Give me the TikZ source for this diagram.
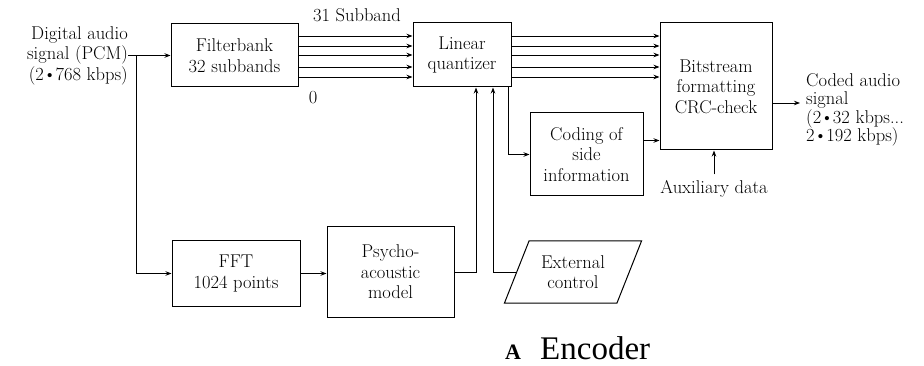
\documentclass[tikz,border=0pt]{standalone}
\usepackage{fontspec}
\newfontfamily\timesf{Liberation Serif}
\usetikzlibrary{arrows.meta,shapes.geometric}
\newcommand{\bul}{\kern-0.8pt\textbullet\kern-0.8pt}
\begin{document}
\begin{tikzpicture}[x=1pt,y=-1pt,
  every node/.style={font=\fontsize{18.5}{20.5}\selectfont},
  blk/.style={draw, line width=1pt, align=center, inner sep=0pt},
  lbl/.style={inner sep=0pt},
  conn/.style={line width=0.9pt, -{Stealth[length=6pt,width=4.5pt]}},
]
\useasboundingbox (0,0) rectangle (924,366);
% blocks
\node[blk, minimum width=127pt, minimum height=63pt] (fb) at (234.5,55.5) {Filterbank\\32 subbands};
\node[blk, minimum width=98pt, minimum height=64pt] (lq) at (462,55) {Linear\\quantizer};
\node[blk, minimum width=112pt, minimum height=127pt] (bs) at (716,86.5) {Bitstream\\formatting\\CRC-check};
\node[blk, minimum width=113pt, minimum height=83pt] (cod) at (586.5,154.5) {Coding of\\side\\information};
\node[blk, minimum width=128pt, minimum height=65pt] (fft) at (236,273.5) {FFT\\1024 points};
\node[blk, minimum width=127pt, minimum height=90pt] (psy) at (390.5,272) {Psycho-\\acoustic\\model};
\node[blk, trapezium, trapezium left angle=62, trapezium right angle=118, trapezium stretches=true,
      minimum width=138pt, minimum height=62pt] (ext) at (573,272) {External\\control};
% texts
\node[lbl, align=right, anchor=east] (in) at (128,55.5) {Digital audio\\signal (PCM)\\(2\bul 768 kbps)};
\node[lbl, align=left, anchor=west, font=\fontsize{18.5}{18.5}\selectfont] (out) at (806,110) {Coded audio\\signal\\(2\bul 32 kbps...\\2\bul 192 kbps)};
\node[lbl] (aux) at (714,189) {Auxiliary data};
\node[lbl] (s31) at (357,15) {31 Subband};
\node[lbl] (s0) at (313,98) {0};
\node[lbl, anchor=base west, font=\timesf\bfseries\fontsize{22}{22}\selectfont] (encA) at (505,359) {A};
\node[lbl, anchor=base west, font=\timesf\fontsize{33}{33}\selectfont] (enc) at (540,359) {Encoder};
\coordinate (outin) at (800,103);
% connectors
\draw[conn] (in.east) -- (fb.west);
\draw[conn] ([xshift=8pt]in.east) |- (fft.west);
\draw[conn] (fft.east) -- (fft.east -| psy.west);
\draw[conn] (psy.east) -| ([xshift=14pt]lq.south);
\draw[conn] (ext.west) -| ([xshift=31pt]lq.south);
\draw[conn] ([xshift=46pt]lq.south) |- (cod.west);
\draw[conn] ([yshift=14pt]cod.east) -- ([yshift=14pt]cod.east -| bs.west);
\draw[conn] (bs.east |- outin) -- (outin);
\draw[conn] ([yshift=6pt]aux.north) -- (aux.north |- bs.south);
\foreach \yy in {36,46,55,67,77} {
  \draw[conn] (fb.east |- 0,\yy) -- (lq.west |- 0,\yy);
  \draw[conn] (lq.east |- 0,\yy) -- (bs.west |- 0,\yy);
}
\end{tikzpicture}
\end{document}
